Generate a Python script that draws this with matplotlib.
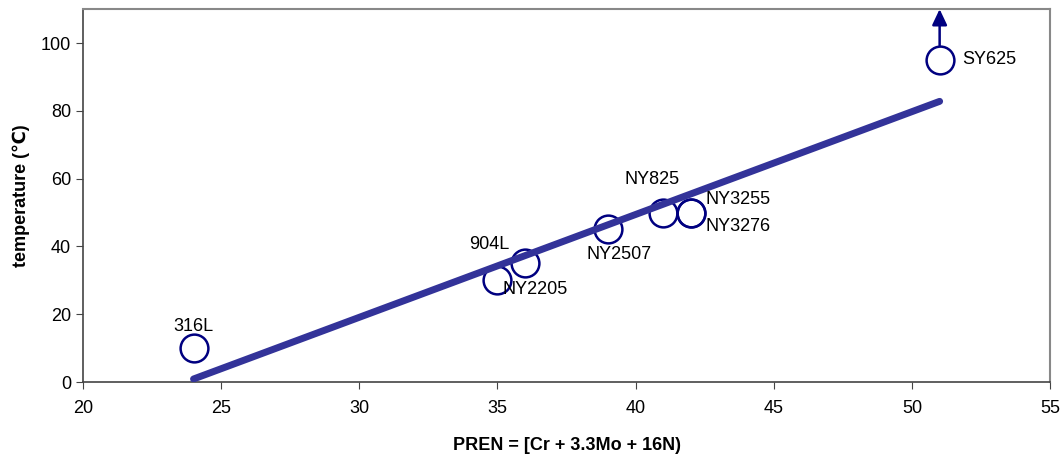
import matplotlib
matplotlib.use("Agg")
import matplotlib.pyplot as plt

plt.rcParams['font.family'] = ['Liberation Sans', 'DejaVu Sans']

# data
alloys = ['316L', '904L', 'NY2205', 'NY2507', 'NY825', 'NY3255', 'NY3276', 'SY625']
pren = [24, 35, 36, 39, 41, 42, 42, 51]
temp = [10, 30, 35, 45, 50, 50, 50, 95]
fit_x = [24, 51]
fit_y = [0.9, 82.8]

# label offsets in pixels (point the label belongs to, dx, dy, ha)
label_pos = {
    '316L': (0, 0, 22, 'center'),
    '904L': (1, -8, 36, 'center'),
    'NY2205': (1, 5, -9, 'left'),
    'NY2507': (3, 11, -25, 'center'),
    'NY825': (4, -11, 33, 'center'),
    'NY3255': (5, 15, 13, 'left'),
    'NY3276': (6, 15, -14, 'left'),
    'SY625': (7, 23, 0, 'left'),
}

fig = plt.figure(figsize=(10.64, 4.57), dpi=100)
ax = fig.add_axes([0.078, 0.164, 0.909, 0.816])

ax.plot(pren, temp, 'o', ms=20, mfc='none', mec='#000080', mew=1.8, zorder=2)
ax.plot(fit_x, fit_y, color='#333399', lw=5, solid_capstyle='round', zorder=3)

for name in alloys:
    i, dx, dy, ha = label_pos[name]
    ax.annotate(name, (pren[i], temp[i]), xytext=(dx, dy), textcoords='offset pixels',
                ha=ha, va='center', fontsize=13, zorder=4)

# arrow above SY625
ax.annotate('', xy=(51, 110), xytext=(51, 99.3),
            arrowprops=dict(arrowstyle='-|>,head_width=0.45,head_length=0.95',
                            color='#000080', lw=1.8, shrinkA=0, shrinkB=0),
            zorder=4, annotation_clip=False)

ax.set_xlim(20, 55)
ax.set_ylim(0, 110)
ax.set_xticks(range(20, 56, 5))
ax.set_yticks(range(0, 101, 20))
ax.tick_params(labelsize=13, direction='out', length=5, color='#444444')
ax.tick_params(axis='x', pad=8)
ax.set_xlabel('PREN = [Cr + 3.3Mo + 16N)', fontsize=13, fontweight='bold', labelpad=14)
ax.set_ylabel('temperature (℃)', fontsize=13, fontweight='bold', labelpad=8)

for s in ['top', 'right']:
    ax.spines[s].set_color('#888888')
    ax.spines[s].set_linewidth(1.5)
for s in ['left', 'bottom']:
    ax.spines[s].set_color('#444444')
    ax.spines[s].set_linewidth(1.2)

fig.savefig('out.png', dpi=100)
